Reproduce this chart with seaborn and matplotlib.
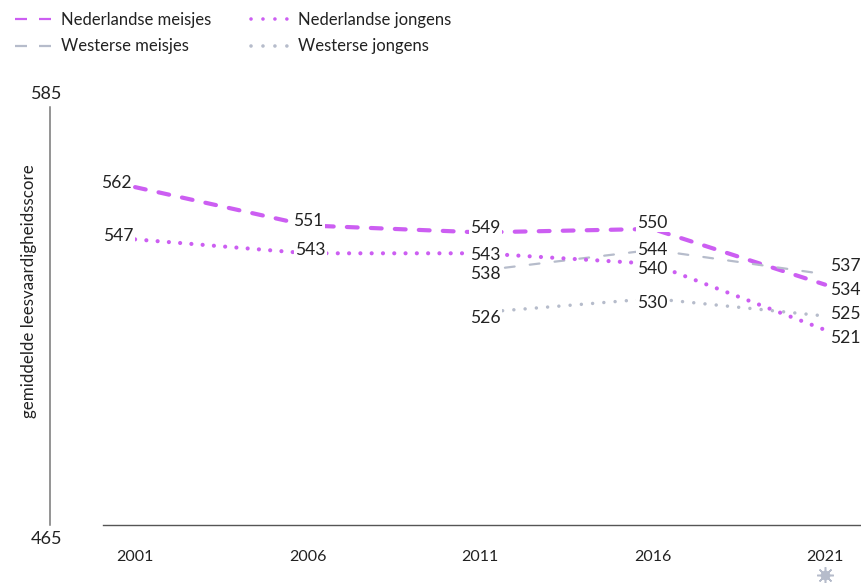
import numpy as np
import pandas as pd
import seaborn as sns
from matplotlib import pyplot as plt
from matplotlib.lines import Line2D
from matplotlib.transforms import ScaledTranslation, blended_transform_factory

years = [2001, 2006, 2011, 2016, 2021]
nl_meisjes = [562, 551, 549, 550, 534]
nl_jongens = [547, 543, 543, 540, 521]
w_meisjes = [np.nan, np.nan, 538, 544, 537]
w_jongens = [np.nan, np.nan, 526, 530, 525]

names = ["Nederlandse meisjes", "Westerse meisjes", "Nederlandse jongens", "Westerse jongens"]
purple = "#cc5ef2"
grey = "#b6bccb"
ink = "#222222"

# label offsets from the point, in pixels (right, up)
offsets = {
    "Nederlandse meisjes": [(-19, 4), (1, 4), (5, 4), (0, 6), (20, -5)],
    "Nederlandse jongens": [(-17, 3), (3, 3), (5, -2), (0, -5), (20, -8)],
    "Westerse meisjes": [None, None, (5, -3), (0, 0), (20, 8)],
    "Westerse jongens": [None, None, (5, -5), (0, -4), (20, 2)],
}


def main():
    sns.set_style("white")
    plt.rcParams["font.family"] = ["Lato", "DejaVu Sans"]

    df = pd.DataFrame({"jaar": years * 4,
                       "serie": np.repeat(names, 5),
                       "score": nl_meisjes + w_meisjes + nl_jongens + w_jongens}).dropna()

    palette = {names[0]: purple, names[1]: grey, names[2]: purple, names[3]: grey}
    sizes = {names[0]: 3.0, names[1]: 1.6, names[2]: 3.0, names[3]: 2.5}
    dashes = {names[0]: (2.6, 3.16), names[1]: (4.4, 6.85), names[2]: (0.01, 2.7), names[3]: (0.01, 3.24)}

    fig = plt.figure(figsize=(8.61, 5.83), dpi=100)
    ax = fig.add_axes([103 / 861, 1 - 525 / 583, 758 / 861, 418 / 583])
    sns.lineplot(data=df, x="jaar", y="score", hue="serie", style="serie", size="serie",
                 palette=palette, sizes=sizes, dashes=dashes, hue_order=names,
                 errorbar=None, legend=False, ax=ax)
    for line in ax.get_lines():
        line.set_dash_capstyle("round")

    ax.set_xlim(2000.07, 2022.04)
    ax.set_ylim(465, 585)

    # value labels sit on the lines with a white patch behind them
    series = {names[0]: nl_meisjes, names[1]: w_meisjes, names[2]: nl_jongens, names[3]: w_jongens}
    for name, vals in series.items():
        for yr, val, off in zip(years, vals, offsets[name]):
            if off is None:
                continue
            ax.annotate("%d" % val, (yr, val), xytext=(off[0] * 0.72, off[1] * 0.72),
                        textcoords="offset points", ha="center", va="center", fontsize=12.6,
                        color=ink, zorder=5, annotation_clip=False,
                        bbox=dict(facecolor="white", edgecolor="none", pad=1.0))

    sns.despine(ax=ax)
    ax.spines["left"].set_position(("outward", 53 * 0.72))
    ax.spines["left"].set_color("#777777")
    ax.spines["bottom"].set_color("#555555")
    ax.spines["left"].set_linewidth(1.1)
    ax.spines["bottom"].set_linewidth(1.0)

    ax.set_xticks(years)
    ax.set_yticks([465, 585])
    ax.tick_params(axis="x", length=0, pad=18, labelsize=11.5, labelcolor=ink)
    ax.tick_params(axis="y", length=0, pad=-9, labelsize=13, labelcolor=ink)
    ax.set_xlabel("")
    ax.set_ylabel("gemiddelde leesvaardigheidsscore", fontsize=12.2, color=ink)
    ax.yaxis.set_label_coords((37 - 103) / 758, (525 - 291) / 418)

    low, high = ax.get_yticklabels()
    low.set_va("top")
    high.set_va("bottom")
    low.set_transform(low.get_transform() + ScaledTranslation(0, -6 / 100, fig.dpi_scale_trans))
    high.set_transform(high.get_transform() + ScaledTranslation(0, 5 / 100, fig.dpi_scale_trans))

    # corona marker under 2021
    trans = blended_transform_factory(ax.transData, ax.transAxes)
    ax.plot([2021], [-0.12], marker="o", ms=7, color=grey, mew=0, transform=trans, clip_on=False)
    ax.plot([2021], [-0.12], marker=(8, 2, 0), ms=12, color=grey, mew=1.1, transform=trans, clip_on=False)

    handles = [
        Line2D([], [], color=purple, lw=1.6, dashes=(5.4, 5.4)),
        Line2D([], [], color=grey, lw=1.6, dashes=(5.4, 5.4)),
        Line2D([], [], color=purple, lw=2.6, dashes=(0.01, 3.3), dash_capstyle="round"),
        Line2D([], [], color=grey, lw=2.6, dashes=(0.01, 3.3), dash_capstyle="round"),
    ]
    fig.legend(handles, names, ncol=2, frameon=False, loc="upper left",
               bbox_to_anchor=(15 / 861, 1 - 12 / 583), borderaxespad=0, borderpad=0,
               fontsize=12, handlelength=2.17, handletextpad=0.6, columnspacing=2.4,
               labelspacing=0.62, labelcolor=ink)

    plt.savefig("out.png", dpi=100)


if __name__ == "__main__":
    main()
